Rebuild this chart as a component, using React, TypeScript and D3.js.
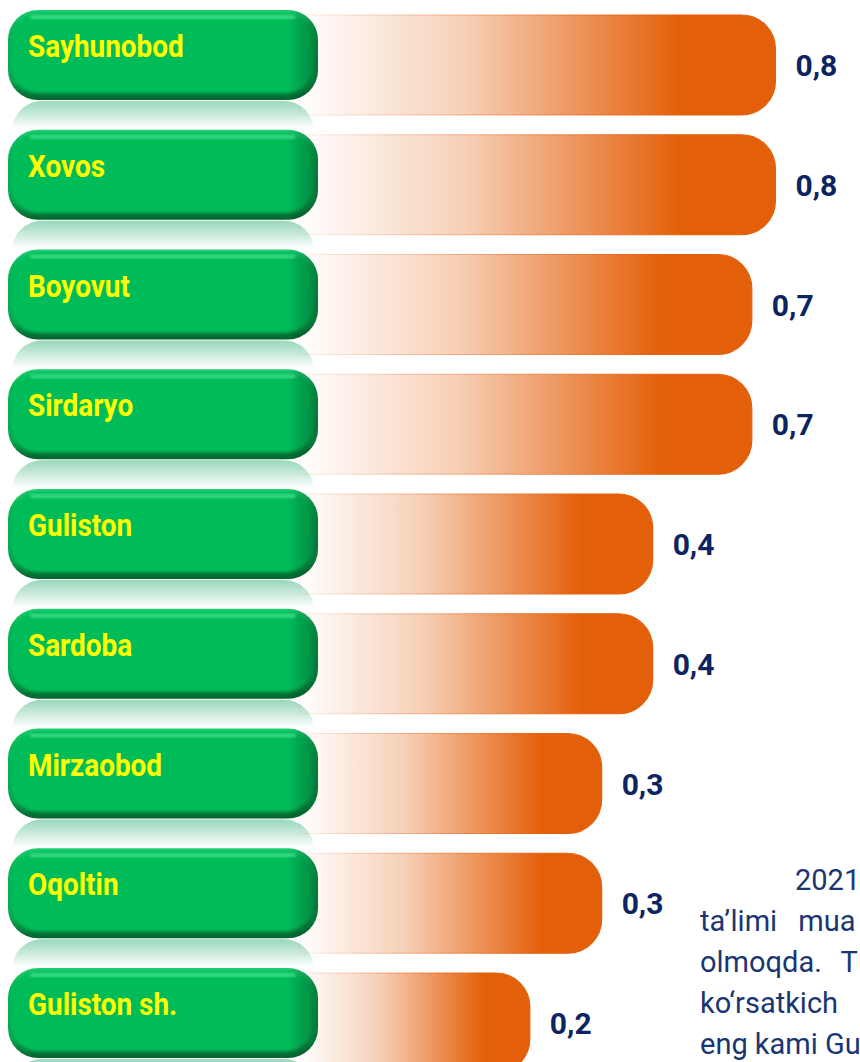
import React from 'react';
import * as d3 from 'd3';

// districts, top to bottom
const districts = [
  'Sayhunobod',
  'Xovos',
  'Boyovut',
  'Sirdaryo',
  'Guliston',
  'Sardoba',
  'Mirzaobod',
  'Oqoltin',
  'Guliston sh.',
];
const values = [0.8, 0.8, 0.7, 0.7, 0.4, 0.4, 0.3, 0.3, 0.2];

// clipped paragraph on the right (only what is visible)
const paragraphLines = ['2021', 'ta’limi mua', 'olmoqda. T', 'ko‘rsatkich', 'eng kami Gu'];

const W = 860;
const H = 1062;
const ORANGE = '#E45F09';
const NAVY = '#0c2461';

const fmt = (v: number) => d3.format('.1f')(v).replace('.', ',');

function barPath(x0: number, y0: number, x1: number, h: number, r: number) {
  const p = d3.path();
  p.moveTo(x0, y0);
  p.lineTo(x1 - r, y0);
  p.arcTo(x1, y0, x1, y0 + r, r);
  p.lineTo(x1, y0 + h - r);
  p.arcTo(x1, y0 + h, x1 - r, y0 + h, r);
  p.lineTo(x0, y0 + h);
  p.closePath();
  return p.toString();
}

export default function App() {
  const y = d3.scaleBand<string>()
    .domain(districts)
    .range([10, 10 + districts.length * 119.75])
    .paddingInner(0);

  // decorative infographic: bar length grows on a log scale
  const x = d3.scaleLog().domain([0.1, 1]).range([407, 815]);

  const pillX = 8;
  const pillW = 310;
  const pillH = 90;
  const pillR = 30;
  const barLeft = 300;
  const barH = 100;
  const barOff = 5;

  // justified lines in the source text get wider word gaps
  const lineSpacing = [0, 14, 12, 0, 0];

  return (
    <div style={{ position: 'absolute', left: 0, top: 0 }}>
      <svg width={W} height={H} style={{ display: 'block', background: '#fff' }}>
        <defs>
          <linearGradient id="barFill" x1="0" x2="1" y1="0" y2="0">
            <stop offset="0" stopColor={ORANGE} stopOpacity={0} />
            <stop offset="0.35" stopColor={ORANGE} stopOpacity={0.3} />
            <stop offset="0.8" stopColor={ORANGE} stopOpacity={1} />
            <stop offset="1" stopColor={ORANGE} stopOpacity={1} />
          </linearGradient>
          <linearGradient id="barEdge" x1="0" x2="1" y1="0" y2="0">
            <stop offset="0" stopColor="#e8753a" stopOpacity={0.1} />
            <stop offset="0.4" stopColor="#e8753a" stopOpacity={0.6} />
            <stop offset="0.8" stopColor={ORANGE} stopOpacity={1} />
          </linearGradient>
          <linearGradient id="pillEdge" x1="0" x2="0" y1="0" y2="1">
            <stop offset="0" stopColor="#1fcf74" />
            <stop offset="0.2" stopColor="#08b657" />
            <stop offset="0.8" stopColor="#07a34d" />
            <stop offset="1" stopColor="#04632e" />
          </linearGradient>
          <linearGradient id="pillSide" x1="0" x2="1" y1="0" y2="0">
            <stop offset="0" stopColor="#000" stopOpacity={0} />
            <stop offset="0.9" stopColor="#000" stopOpacity={0} />
            <stop offset="1" stopColor="#000" stopOpacity={0.3} />
          </linearGradient>
          <linearGradient id="reflect" x1="0" x2="0" y1="0" y2="1">
            <stop offset="0" stopColor="#0aa05a" stopOpacity={0.42} />
            <stop offset="0.45" stopColor="#0aa05a" stopOpacity={0} />
          </linearGradient>
          <filter id="soft" x="-5%" y="-10%" width="110%" height="120%">
            <feGaussianBlur stdDeviation="1.4" />
          </filter>
        </defs>

        {/* bars */}
        {districts.map((d, i) => {
          const y0 = (y(d) as number) + barOff;
          return (
            <path
              key={'bar' + d}
              d={barPath(barLeft, y0, x(values[i]), barH, 34)}
              fill="url(#barFill)"
              stroke="url(#barEdge)"
              strokeWidth={1.2}
            />
          );
        })}

        {/* reflections under the pills */}
        {districts.map((d) => {
          const y0 = (y(d) as number) + pillH + 1;
          return (
            <rect
              key={'ref' + d}
              x={pillX + 4}
              y={y0}
              width={pillW - 8}
              height={62}
              rx={pillR}
              fill="url(#reflect)"
            />
          );
        })}

        {/* green pills */}
        {districts.map((d) => {
          const y0 = y(d) as number;
          return (
            <g key={'pill' + d}>
              <rect x={pillX} y={y0} width={pillW} height={pillH} rx={pillR} fill="url(#pillEdge)" />
              <rect
                x={pillX + 3}
                y={y0 + 3}
                width={pillW - 8}
                height={pillH - 10}
                rx={pillR - 3}
                fill="#05bc58"
                filter="url(#soft)"
              />
              <rect x={pillX} y={y0} width={pillW} height={pillH} rx={pillR} fill="url(#pillSide)" />
              <rect
                x={pillX + 22}
                y={y0 + 5}
                width={pillW - 44}
                height={4}
                rx={2}
                fill="#6af5b0"
                opacity={0.55}
                filter="url(#soft)"
              />
            </g>
          );
        })}

        {/* district names */}
        {districts.map((d) => {
          const y0 = y(d) as number;
          return (
            <text
              key={'lab' + d}
              transform={`translate(28,${y0 + 47}) scale(0.9,1)`}
              fontFamily="Roboto, 'Liberation Sans', sans-serif"
              fontWeight={700}
              fontSize={31}
              fill="#ffff00"
            >
              {d}
            </text>
          );
        })}

        {/* value labels */}
        {districts.map((d, i) => {
          const yc = (y(d) as number) + barOff + barH / 2;
          return (
            <text
              key={'val' + d}
              x={x(values[i]) + 20}
              y={yc + 11}
              fontFamily="Roboto, 'Liberation Sans', sans-serif"
              fontWeight={700}
              fontSize={30}
              fill={NAVY}
            >
              {fmt(values[i])}
            </text>
          );
        })}

        {/* paragraph fragment */}
        <g fontFamily="Roboto, 'Liberation Sans', sans-serif" fontSize={29} fill="#1a3672">
          {paragraphLines.map((t, i) => (
            <text
              key={'p' + i}
              x={i === 0 ? 795 : 700}
              y={890 + i * 41}
              wordSpacing={lineSpacing[i]}
            >
              {t}
            </text>
          ))}
        </g>
      </svg>
    </div>
  );
}
